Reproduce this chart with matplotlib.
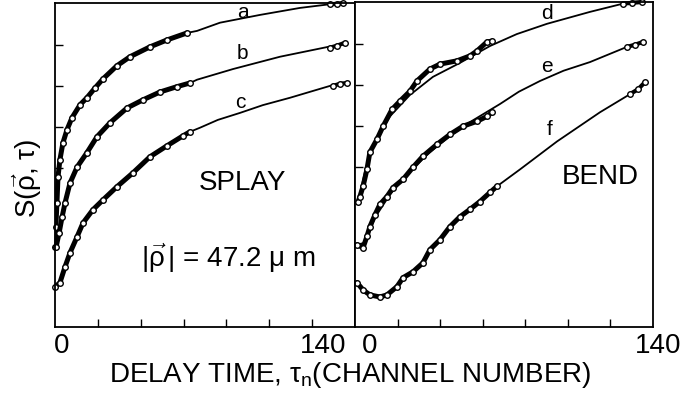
import matplotlib.pyplot as plt

plt.rcParams['font.family'] = ['Liberation Sans', 'DejaVu Sans']
plt.rcParams['mathtext.fontset'] = 'custom'
plt.rcParams['mathtext.rm'] = 'Liberation Sans'
plt.rcParams['mathtext.it'] = 'Liberation Sans'

# ---- SPLAY panel (left) ----
a_x = [0, 0.4, 0.9, 1.4, 2.3, 3.7, 5.6, 7.9, 11.7, 14.9, 18.7, 22.4, 28.9, 35.0, 44.3, 52.3, 61.6]
a_y = [2.07, 2.56, 3.15, 3.78, 4.20, 4.61, 4.93, 5.22, 5.54, 5.71, 5.95, 6.17, 6.49, 6.71, 6.95, 7.12, 7.29]
a_fit_x = [66.3, 77.0, 95.7, 114.3, 128.3]
a_fit_y = [7.34, 7.54, 7.73, 7.90, 7.99]
a_end_x = [128.3, 131.6, 134.4]
a_end_y = [7.99, 8.0, 8.02]

b_x = [0.5, 1.9, 3.3, 4.7, 7.0, 10.3, 14.9, 19.6, 25.7, 33.6, 41.1, 49.0, 56.9, 63.0]
b_y = [2.07, 2.41, 2.80, 3.15, 3.63, 4.02, 4.37, 4.76, 5.10, 5.46, 5.66, 5.85, 5.98, 6.07]
b_fit_x = [66.3, 83.1, 105.0, 127.4]
b_fit_y = [6.15, 6.41, 6.71, 6.95]
b_end_x = [128.3, 131.6, 135.3]
b_end_y = [6.93, 6.98, 7.05]

c_x = [0, 2.3, 4.7, 7.0, 10.3, 13.1, 17.7, 22.4, 28.9, 36.4, 44.3, 52.3, 59.7, 63.0]
c_y = [1.10, 1.20, 1.59, 1.93, 2.32, 2.66, 2.98, 3.22, 3.54, 3.88, 4.27, 4.54, 4.78, 4.88]
c_fit_x = [67.7, 76.0, 86.3, 97.0, 109.7, 120.0, 129.7]
c_fit_y = [4.98, 5.17, 5.34, 5.53, 5.71, 5.87, 6.02]
c_end_x = [129.7, 133.0, 136.3]
c_end_y = [6.00, 6.05, 6.07]

# ---- BEND panel (right) ----
d_x = [1.4, 2.3, 3.8, 5.6, 7.0, 10.3, 13.2, 17.4, 21.1, 25.8, 29.1, 35.2, 39.9, 47.9, 54.0, 57.3, 62.0, 64.4]
d_y = [3.15, 3.29, 3.54, 3.95, 4.37, 4.68, 5.00, 5.41, 5.61, 5.85, 6.10, 6.39, 6.51, 6.59, 6.71, 6.83, 7.05, 7.07]
# the fit for d runs a little under the data, so it gets its own full line
d_line_x = [1.4, 4.7, 9.4, 16.4, 25.8, 36.6, 49.3, 63.4, 76.0, 90.2, 110.4, 125.9]
d_line_y = [3.15, 3.90, 4.63, 5.24, 5.76, 6.20, 6.54, 6.95, 7.24, 7.49, 7.78, 7.98]
d_end_x = [125.9, 130.1, 134.8]
d_end_y = [7.98, 8.0, 8.02]

e_x = [0.9, 3.8, 5.6, 7.0, 9.4, 11.7, 15.0, 17.9, 22.6, 27.2, 31.9, 38.5, 44.6, 50.7, 57.3, 62.0, 64.4]
e_y = [2.12, 2.05, 2.32, 2.56, 2.85, 3.10, 3.29, 3.51, 3.71, 4.00, 4.27, 4.56, 4.80, 5.00, 5.12, 5.24, 5.34]
e_line_x = [0.9, 4.7, 9.4, 16.4, 25.8, 35.2, 44.6, 54.0, 68.1, 77.0, 86.9, 98.0, 110.4, 127.8]
e_line_y = [2.12, 2.17, 2.78, 3.34, 3.90, 4.37, 4.76, 5.10, 5.54, 5.84, 6.10, 6.35, 6.56, 6.93]
e_end_x = [127.8, 131.5, 135.3]
e_end_y = [6.93, 6.98, 7.05]

f_x = [0.9, 3.8, 7.0, 11.7, 15.0, 19.7, 22.6, 27.2, 31.9, 35.2, 39.9, 44.6, 49.3, 54.0, 58.7, 63.4, 66.7]
f_y = [1.20, 1.02, 0.90, 0.85, 0.90, 1.10, 1.32, 1.46, 1.68, 2.00, 2.24, 2.56, 2.80, 2.98, 3.17, 3.39, 3.54]
f_line_x = f_x + [77.5, 94.9, 115.1, 129.2]
f_line_y = f_y + [3.95, 4.63, 5.34, 5.78]
f_end_x = [129.2, 133.0, 136.2]
f_end_y = [5.78, 5.90, 6.07]

a_line_x, a_line_y = a_x + a_fit_x, a_y + a_fit_y
b_line_x, b_line_y = b_x + b_fit_x, b_y + b_fit_y
c_line_x, c_line_y = c_x + c_fit_x, c_y + c_fit_y

curve_labels = ['a', 'b', 'c', 'd', 'e', 'f']
label_x = [87.7, 87.3, 86.3, 90.2, 90.2, 91.6]
label_y = [7.80, 6.80, 5.59, 7.73, 6.46, 4.93]


def draw_curve(ax, x, y, line_x, line_y, end_x, end_y):
    ax.plot(line_x, line_y, color='k', lw=1.3, clip_on=False)
    # overlapping open circles in the scan read as a thick dark band
    ax.plot(x, y, color='k', lw=3.6, solid_capstyle='round', solid_joinstyle='round')
    ax.plot(x, y, 'o', ms=4.0, mfc='white', mec='k', mew=1.0, clip_on=False)
    ax.plot(end_x, end_y, '-o', color='k', lw=3.0, ms=4.0, mfc='white', mec='k', mew=1.0,
            solid_capstyle='round', clip_on=False)


fig = plt.figure(figsize=(7, 3.98), dpi=100)
ax1 = fig.add_axes([55 / 700, 1 - 327 / 398, 300 / 700, 324 / 398])
ax2 = fig.add_axes([355 / 700, 1 - 327 / 398, 298 / 700, 325 / 398])

draw_curve(ax1, a_x, a_y, a_line_x, a_line_y, a_end_x, a_end_y)
draw_curve(ax1, b_x, b_y, b_line_x, b_line_y, b_end_x, b_end_y)
draw_curve(ax1, c_x, c_y, c_line_x, c_line_y, c_end_x, c_end_y)
draw_curve(ax2, d_x, d_y, d_line_x, d_line_y, d_end_x, d_end_y)
draw_curve(ax2, e_x, e_y, e_line_x, e_line_y, e_end_x, e_end_y)
draw_curve(ax2, f_x, f_y, f_line_x, f_line_y, f_end_x, f_end_y)

for i in range(6):
    ax = ax1 if i < 3 else ax2
    ax.text(label_x[i], label_y[i], curve_labels[i], fontsize=15, ha='center', va='center')

ax1.text(87.7, 3.63, 'SPLAY', fontsize=20, ha='center', va='center')
ax2.text(115.1, 3.76, 'BEND', fontsize=20, ha='center', va='center')
ax1.text(80.7, 1.80, r'$|\vec{\rho}\,|$ = 47.2 $\mu$ m', fontsize=20, ha='center', va='center')

for ax in (ax1, ax2):
    ax.set_xlim(0, 140)
    ax.set_ylim(0.12, 8.02)
    ax.set_xticks([20, 40, 60, 80, 100, 120])
    ax.set_yticks([4, 5, 6, 7])
    ax.tick_params(direction='in', length=6, width=1.0, labelbottom=False, labelleft=False)
    for s in ax.spines.values():
        s.set_linewidth(1.3)

# only the ends of the channel axis are numbered
tr1 = ax1.get_xaxis_transform()
tr2 = ax2.get_xaxis_transform()
ax1.text(3.3, -0.058, '0', transform=tr1, fontsize=20, ha='center', va='center')
ax1.text(125, -0.058, '140', transform=tr1, fontsize=20, ha='center', va='center')
ax2.text(7.0, -0.058, '0', transform=tr2, fontsize=20, ha='center', va='center')
ax2.text(142.4, -0.058, '140', transform=tr2, fontsize=20, ha='center', va='center')

fig.text(350 / 700, 1 - 375 / 398, r'DELAY TIME, $\tau_{\mathrm{n}}$(CHANNEL NUMBER)',
         fontsize=20, ha='center', va='center')
fig.text(27 / 700, 1 - 178 / 398, r'S($\vec{\rho}$, $\tau$)', fontsize=20, rotation=90,
         ha='center', va='center')

fig.savefig('out.png', dpi=100)
